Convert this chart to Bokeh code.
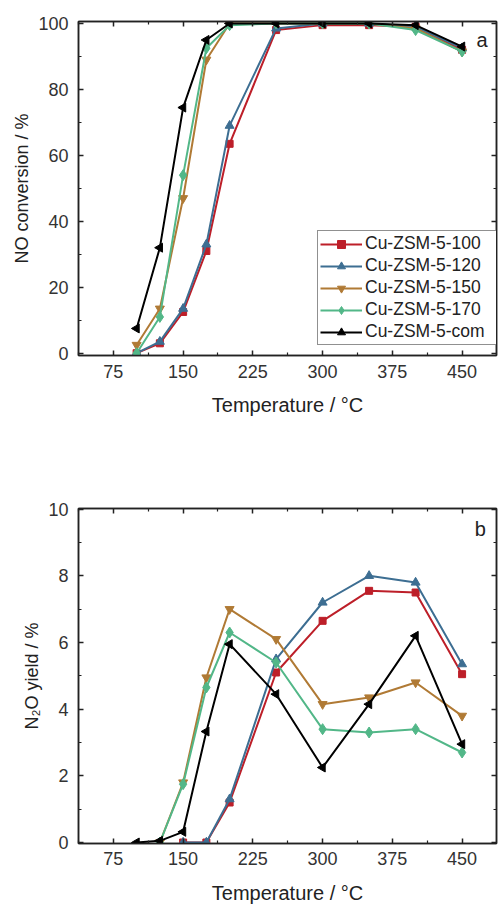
import numpy as np
from bokeh.plotting import figure
from bokeh.models import Range1d, FixedTicker, LinearAxis, Legend, LegendItem, Label
from bokeh.layouts import column
from bokeh.embed import file_html
from bokeh.resources import INLINE

# ---------------- data ----------------
series_names = ["Cu-ZSM-5-100", "Cu-ZSM-5-120", "Cu-ZSM-5-150", "Cu-ZSM-5-170", "Cu-ZSM-5-com"]

# (a) NO conversion / %
temps_a = [100, 125, 150, 175, 200, 250, 300, 350, 400, 450]
no_100 = [0, 3, 12.5, 31, 63.5, 98, 99.5, 99.5, 99, 92]
no_120 = [0, 3.5, 13.5, 33, 69, 98.5, 100, 100, 99, 92.5]
no_150 = [2.5, 13.5, 47, 89, 100, 100, 100, 100, 98.5, 91.5]
no_170 = [0, 11, 54, 92.5, 99.5, 100, 100, 100, 98, 91.5]
no_com = [7.5, 32, 74.5, 95, 100, 100, 100, 100, 99.5, 93]

# (b) N2O yield / %
temps_b_100_120 = [150, 175, 200, 250, 300, 350, 400, 450]
temps_b_150_170 = [125, 150, 175, 200, 250, 300, 350, 400, 450]
temps_b_com = [100, 125, 150, 175, 200, 250, 300, 350, 400, 450]
n2o_100 = [0, 0, 1.2, 5.1, 6.65, 7.55, 7.5, 5.05]
n2o_120 = [0, 0, 1.3, 5.5, 7.2, 8.0, 7.8, 5.35]
n2o_150 = [0, 1.8, 4.95, 7.0, 6.1, 4.15, 4.35, 4.8, 3.8]
n2o_170 = [0, 1.75, 4.65, 6.3, 5.4, 3.4, 3.3, 3.4, 2.7]
n2o_com = [0, 0.05, 0.32, 3.33, 5.95, 4.45, 2.25, 4.15, 6.2, 2.95]

x_ticks = [75, 150, 225, 300, 375, 450]
x_minor = [37.5, 112.5, 187.5, 262.5, 337.5, 412.5]
ya_ticks = [0, 20, 40, 60, 80, 100]
ya_minor = [10, 30, 50, 70, 90]
yb_ticks = [0, 2, 4, 6, 8, 10]
yb_minor = [1, 3, 5, 7, 9]

# ---------------- style ----------------
colors = ["#bd1f29", "#3d6e92", "#b07a35", "#52b788", "#000000"]
markers = ["square", "triangle", "inverted_triangle", "diamond", "triangle"]
angles = [0, 0, 0, 0, np.pi / 2]
sizes = [7, 9, 9, 11, 9]
FONT = "Liberation Sans"
AX = "#222222"


def style_axis(ax, ticks, minor, show_labels, standoff):
    ax.ticker = FixedTicker(ticks=ticks, minor_ticks=minor)
    ax.major_tick_in = 5
    ax.major_tick_out = 0
    ax.minor_tick_in = 3
    ax.minor_tick_out = 0
    ax.axis_line_color = AX
    ax.axis_line_width = 1.5
    ax.major_tick_line_color = AX
    ax.major_tick_line_width = 1.5
    ax.minor_tick_line_color = AX
    ax.minor_tick_line_width = 1.2
    ax.major_label_text_font = FONT
    ax.axis_label_text_font = FONT
    ax.axis_label_text_font_style = "normal"
    ax.axis_label_text_color = "#222222"
    if show_labels:
        ax.major_label_text_color = "#333333"
        ax.major_label_text_font_size = "18px"
        ax.major_label_standoff = standoff
    else:
        ax.major_label_overrides = {t: "" for t in ticks}
        ax.major_label_text_color = None
        ax.major_label_text_font_size = "1px"
        ax.major_label_standoff = 0


def make_fig(height, b_top, b_bottom, yr, yticks, yminor, ylabel, tick_standoff, title_standoff):
    p = figure(width=498, height=height, output_backend="svg", toolbar_location=None,
               x_range=Range1d(37.5, 487.0), y_range=Range1d(*yr),
               min_border_left=78, min_border_right=2,
               min_border_top=b_top, min_border_bottom=b_bottom)
    p.grid.visible = False
    p.outline_line_color = AX
    p.outline_line_width = 1.5
    p.background_fill_color = "white"
    p.border_fill_color = "white"
    style_axis(p.xaxis[0], x_ticks, x_minor, True, tick_standoff)
    style_axis(p.yaxis[0], yticks, yminor, True, 10)
    p.xaxis[0].axis_label = "Temperature / °C"
    p.xaxis[0].axis_label_text_font_size = "20px"
    p.xaxis[0].axis_label_standoff = title_standoff
    p.yaxis[0].axis_label = ylabel
    p.yaxis[0].axis_label_text_font_size = "18px"
    p.yaxis[0].axis_label_standoff = 3
    top = LinearAxis()
    style_axis(top, x_ticks, x_minor, False, 0)
    right = LinearAxis()
    style_axis(right, yticks, yminor, False, 0)
    p.add_layout(top, "above")
    p.add_layout(right, "right")
    return p


def draw(p, xs_list, ys_list):
    rends = []
    for xs, ys, c, m, a, s in zip(xs_list, ys_list, colors, markers, angles, sizes):
        l = p.line(xs, ys, line_color=c, line_width=2)
        sc = p.scatter(xs, ys, marker=m, angle=a, size=s, fill_color=c, line_color=c)
        rends.append([l, sc])
    return rends


# ---------------- panel a ----------------
pa = make_fig(460, 21, 105, (-0.7, 100.6), ya_ticks, ya_minor, "NO conversion / %", 9, 13)
ra = draw(pa, [temps_a] * 5, [no_100, no_120, no_150, no_170, no_com])
legend = Legend(items=[LegendItem(label=n, renderers=r) for n, r in zip(series_names, ra)],
                location=(239, 10), orientation="vertical")
legend.label_text_font = FONT
legend.label_text_font_size = "17.5px"
legend.label_text_color = "#222222"
legend.glyph_width = 42
legend.glyph_height = 20
legend.label_height = 20
legend.label_width = 130
legend.label_standoff = 3
legend.spacing = 1
legend.padding = 2
legend.margin = 0
legend.border_line_color = AX
legend.border_line_width = 1.5
legend.background_fill_color = "white"
legend.background_fill_alpha = 1.0
pa.add_layout(legend)
pa.add_layout(Label(x=471.5, y=94.9, text="a", text_align="center", text_baseline="middle",
                    text_font=FONT, text_font_size="20px", text_color="#222222"))

# ---------------- panel b ----------------
pb = make_fig(446, 48, 62, (-0.03, 10.02), yb_ticks, yb_minor, "N₂O yield / %", 8, 14)
draw(pb, [temps_b_100_120, temps_b_100_120, temps_b_150_170, temps_b_150_170, temps_b_com],
     [n2o_100, n2o_120, n2o_150, n2o_170, n2o_com])
pb.add_layout(Label(x=469.7, y=9.42, text="b", text_align="center", text_baseline="middle",
                    text_font=FONT, text_font_size="20px", text_color="#222222"))

layout = column(pa, pb, spacing=0)
open("out.html", "w").write(file_html(layout, INLINE))
